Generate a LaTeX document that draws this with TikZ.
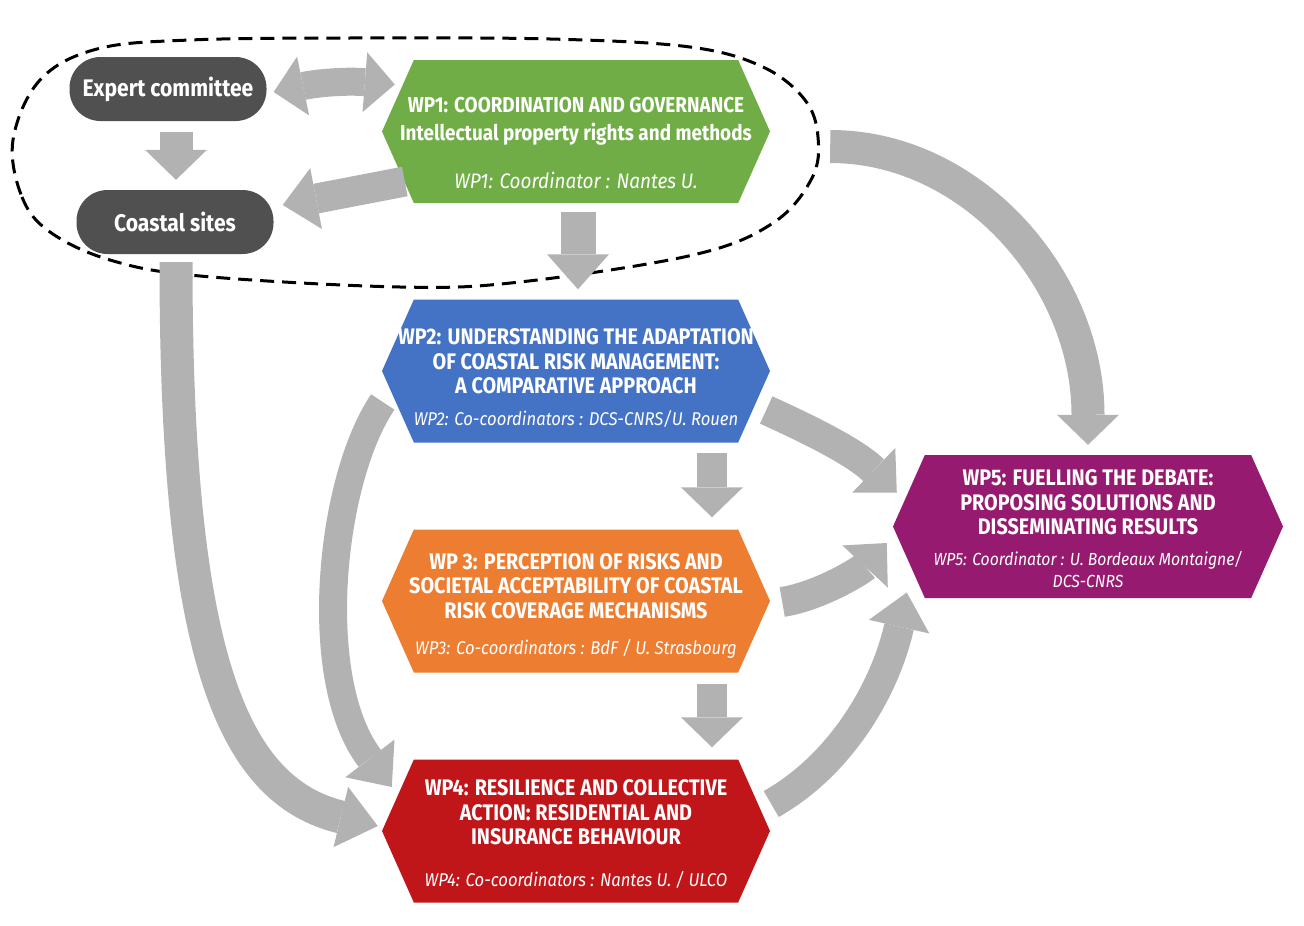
\documentclass[tikz,border=0pt]{standalone}
\usepackage{fontspec}
\setmainfont{Fira Sans}
\newfontfamily\titlefont[FakeStretch=0.88]{Fira Sans}
\newfontfamily\coordfont[FakeStretch=0.9]{Fira Sans}
\usetikzlibrary{shapes.symbols,arrows.meta,calc}
\definecolor{pillgray}{HTML}{505050}
\definecolor{arrowgray}{HTML}{B2B2B2}
\definecolor{wpgreen}{HTML}{70AD47}
\definecolor{wpblue}{HTML}{4472C4}
\definecolor{wporange}{HTML}{ED7D31}
\definecolor{wpred}{HTML}{C0161A}
\definecolor{wppurple}{HTML}{961B70}
\begin{document}
\begin{tikzpicture}[x=1pt,y=-1pt,
  pill/.style={rectangle, rounded corners=31pt, fill=pillgray, text=white,
    font=\titlefont\bfseries\fontsize{24}{28}\selectfont, minimum width=197pt, minimum height=64pt, inner sep=0pt},
  hexa/.style={signal, signal to=west and east, signal pointer angle=132,
    minimum width=388pt, minimum height=143pt, inner sep=0pt, fill=#1},
  wptitle/.style={text=white, align=center, font=\titlefont\bfseries\fontsize{22.5}{24.5}\selectfont, inner sep=0pt},
  wpcoord/.style={text=white, align=center, font=\coordfont\itshape\fontsize{18.5}{22}\selectfont, inner sep=0pt},
  garrow/.style={draw=arrowgray, line width=#1},
  tipH/.style={-{Triangle[length=#1,width=62pt,line width=0pt]}},
  elli/.style={draw=black, line width=3pt, dash pattern=on 14pt off 8pt}
]
\useasboundingbox (0,0) rectangle (1304,926);

% dashed grouping outline
\draw[elli] plot[smooth cycle, tension=0.6] coordinates {
  (13,140) (22,197) (50,232) (110,260) (200,276) (400,287) (520,282)
  (693,255) (773,223) (812,178) (818,137) (805,100) (763,67) (690,47)
  (550,39) (350,38) (190,40) (97,49) (40,80)};

% nodes
\node[pill] (ec) at (168,89) {Expert committee};
\node[pill] (cs) at (175,222) {Coastal sites};

\node[hexa=wpgreen] (wp1) at (576,131.5) {};
\node[hexa=wpblue] (wp2) at (576,371) {};
\node[hexa=wporange] (wp3) at (576,601) {};
\node[hexa=wpred] (wp4) at (576,831) {};
\node[hexa=wppurple, minimum width=390pt] (wp5) at (1088,526.5) {};

\node[wptitle, font=\titlefont\bfseries\fontsize{21.5}{28}\selectfont] (wp1t) at (576,121) {WP1: COORDINATION AND GOVERNANCE\\Intellectual property rights and methods};
\node[wpcoord, font=\coordfont\itshape\fontsize{21}{24}\selectfont] (wp1c) at (576,180) {WP1: Coordinator : Nantes U.};

\node[wptitle] (wp2t) at (576,361.5) {WP2: UNDERSTANDING THE ADAPTATION\\OF COASTAL RISK MANAGEMENT:\\A COMPARATIVE APPROACH};
\node[wpcoord] (wp2c) at (576,419) {WP2: Co-coordinators : DCS-CNRS/U. Rouen};

\node[wptitle] (wp3t) at (576,586) {WP 3: PERCEPTION OF RISKS AND\\SOCIETAL ACCEPTABILITY OF COASTAL\\RISK COVERAGE MECHANISMS};
\node[wpcoord] (wp3c) at (576,649) {WP3: Co-coordinators : BdF / U. Strasbourg};

\node[wptitle] (wp4t) at (576,812.5) {WP4: RESILIENCE AND COLLECTIVE\\ACTION: RESIDENTIAL AND\\INSURANCE BEHAVIOUR};
\node[wpcoord] (wp4c) at (576,880) {WP4: Co-coordinators : Nantes U. / ULCO};

\node[wptitle] (wp5t) at (1088,502.5) {WP5: FUELLING THE DEBATE:\\PROPOSING SOLUTIONS AND\\DISSEMINATING RESULTS};
\node[wpcoord, font=\coordfont\itshape\fontsize{17.5}{22}\selectfont] (wp5c) at (1088,570) {WP5: Coordinator : U. Bordeaux Montaigne/\\DCS-CNRS};

% arrows
\draw[garrow=28pt, {Triangle[length=30pt,width=60pt,line width=0pt]}-{Triangle[length=30pt,width=60pt,line width=0pt]}]
  ($(ec.east)+(7,3)$) to[bend left=8] ($(wp1.west)+(13,-47)$);
\draw[garrow=33pt, tipH=30pt] ($(ec.south)+(8,11)$) -- ($(cs.north)+(1,-10)$);
\draw[garrow=30pt, tipH=34pt] ($(wp1.west)+(23,50)$) -- ($(cs.east)+(9,-17)$);
\draw[garrow=35pt, tipH=35pt] ($(wp1.south)+(2,9)$) -- ($(wp2.north)+(2,-10)$);
\draw[garrow=33pt, tipH=30pt] ($(wp1.east)+(60,15)$) .. controls ($(wp1.east)+(202,15)$) and ($(wp5.north)+(0,-175)$) .. ($(wp5.north)+(0,-10)$);
\draw[garrow=33pt, tipH=38pt] ($(cs.south)+(1,8)$) .. controls ($(cs.south)+(1,396)$) and ($(wp4.west)+(-152,-41)$) .. ($(wp4.west)+(-4,-5)$);
\draw[garrow=28pt, tipH=36pt] ($(wp2.west)+(1,31)$) .. controls ($(wp2.west)+(-52,109)$) and ($(wp4.west)+(-72,-151)$) .. ($(wp4.west)+(10,-44)$);
\draw[garrow=30pt, tipH=30pt] ($(wp2.south)+(136,10)$) -- ($(wp3.north)+(136,-12)$);
\draw[garrow=30pt, tipH=30pt] ($(wp3.south)+(136,11)$) -- ($(wp4.north)+(136,-12)$);
\draw[garrow=30pt, tipH=32pt] ($(wp2.east)+(-4,39)$) .. controls ($(wp2.east)+(40,59)$) and ($(wp5.west)+(-38,-74.5)$) .. ($(wp5.west)+(4,-34)$);
\draw[garrow=30pt, tipH=32pt] ($(wp3.east)+(12,1)$) .. controls ($(wp3.east)+(50,-5)$) and ($(wp5.west)+(-31,43.5)$) .. ($(wp5.west)+(-6,16.5)$);
\draw[garrow=30pt, tipH=35pt] ($(wp4.east)+(1,-27)$) .. controls ($(wp4.east)+(70,-66)$) and ($(wp5.west)+(-8,163.5)$) .. ($(wp5.west)+(14,66)$);
\end{tikzpicture}
\end{document}
